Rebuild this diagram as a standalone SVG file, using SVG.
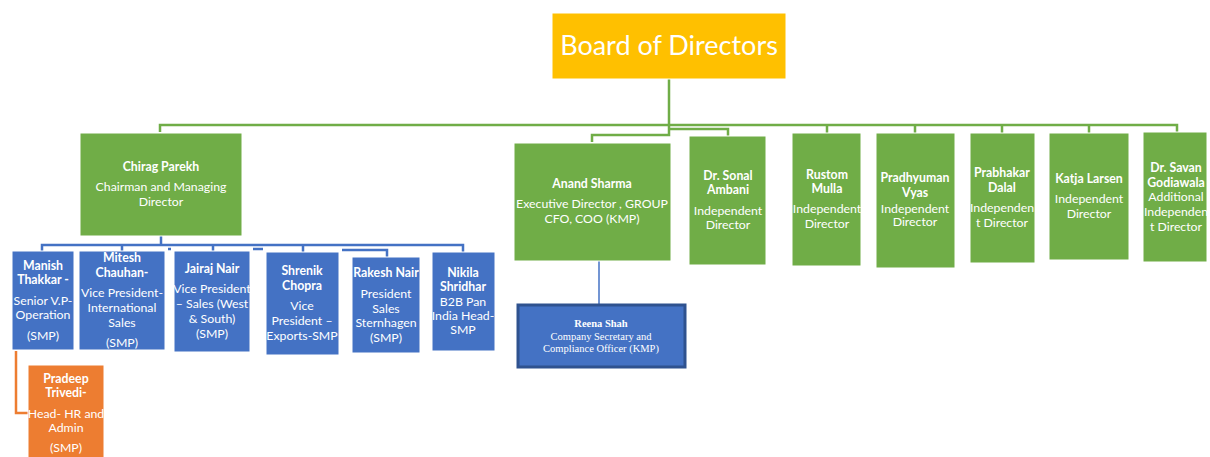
<svg xmlns="http://www.w3.org/2000/svg" width="1210" height="457" viewBox="0 0 1210 457">
<style>
.g{fill:#70AD47;stroke:#ffffff;stroke-width:1}
.b{fill:#4472C4;stroke:#ffffff;stroke-width:1}
.o{fill:#ED7D31;stroke:#ffffff;stroke-width:1}
.t{font-family:Lato,"Open Sans","Liberation Sans",sans-serif;font-size:12.3px;fill:#ffffff;text-anchor:middle}
.bd{font-weight:bold}
.gl{fill:none;stroke:#70AD47;stroke-width:2.5}
.bl{fill:none;stroke:#4472C4;stroke-width:2.5}
.rs{font-family:"Liberation Serif",serif;font-size:10.5px;fill:#ffffff;text-anchor:middle}
</style>
<rect width="1210" height="457" fill="#ffffff"/>
<g id="connectors">
<path class="gl" d="M669,79 V125 M160,132 V125 H1177 V132 M827,125 V133 M915,125 V133 M1002,125 V133 M1089,125 V133 M669,125 V135 H592 V142 M669,129 H728 V136"/>
<path class="bl" d="M161,236 V245 M42,251 V245 H463 V252 M122,245 V251 M213,245 V251 M303,245 V252 M342,250 H387 V257 M168,249 h3 M253,249 h10"/>
<path fill="none" stroke="#4472C4" stroke-width="1.5" d="M599,261 V304"/>
<path fill="none" stroke="#ED7D31" stroke-width="2.5" d="M16,351 V413 H28"/>
</g>
<g id="board">
<rect x="552" y="13" width="234" height="66" fill="#FFC000" stroke="#ffffff"/>
<text x="669" y="55" font-family="Lato,'Open Sans',sans-serif" font-size="27" fill="#ffffff" text-anchor="middle">Board of Directors</text>
</g>
<g id="chirag">
<rect class="g" x="80" y="133" width="162" height="103"/>
<text class="t bd" x="161" y="171">Chirag Parekh</text>
<text class="t" x="161" y="191">Chairman and Managing</text>
<text class="t" x="161" y="206">Director</text>
</g>
<g id="anand">
<rect class="g" x="514" y="143" width="157" height="118"/>
<text class="t bd" x="592" y="188">Anand Sharma</text>
<text class="t" x="592" y="208">Executive Director , GROUP</text>
<text class="t" x="592" y="223">CFO, COO (KMP)</text>
</g>
<g id="sonal">
<rect class="g" x="689" y="136" width="77" height="129"/>
<text class="t bd" x="728" y="180">Dr. Sonal</text>
<text class="t bd" x="728" y="194">Ambani</text>
<text class="t" x="728" y="215">Independent</text>
<text class="t" x="728" y="229">Director</text>
</g>
<g id="rustom">
<rect class="g" x="792" y="133" width="69" height="133"/>
<text class="t bd" x="827" y="179">Rustom</text>
<text class="t bd" x="827" y="193">Mulla</text>
<text class="t" x="827" y="213">Independent</text>
<text class="t" x="827" y="228">Director</text>
</g>
<g id="pradhyuman">
<rect class="g" x="876" y="133" width="79" height="135"/>
<text class="t bd" x="915" y="182">Pradhyuman</text>
<text class="t bd" x="915" y="197">Vyas</text>
<text class="t" x="915" y="213">Independent</text>
<text class="t" x="915" y="226">Director</text>
</g>
<g id="prabhakar">
<rect class="g" x="970" y="133" width="65" height="130"/>
<text class="t bd" x="1002" y="177">Prabhakar</text>
<text class="t bd" x="1002" y="192">Dalal</text>
<text class="t" x="1002" y="212">Independen</text>
<text class="t" x="1002" y="227">t Director</text>
</g>
<g id="katja">
<rect class="g" x="1049" y="133" width="80" height="127"/>
<text class="t bd" x="1089" y="183">Katja Larsen</text>
<text class="t" x="1089" y="203">Independent</text>
<text class="t" x="1089" y="218">Director</text>
</g>
<g id="savan">
<rect class="g" x="1143" y="132" width="64" height="130"/>
<text class="t bd" x="1176" y="172">Dr. Savan</text>
<text class="t bd" x="1176" y="187">Godiawala</text>
<text class="t" x="1176" y="201">Additional</text>
<text class="t" x="1176" y="216">Independen</text>
<text class="t" x="1176" y="231">t Director</text>
</g>
<g id="reena">
<rect x="518" y="305" width="167" height="62" fill="#4472C4" stroke="#2F528F" stroke-width="3"/>
<text class="rs" x="601" y="327" font-weight="bold">Reena Shah</text>
<text class="rs" x="601" y="340">Company Secretary and</text>
<text class="rs" x="601" y="352">Compliance Officer (KMP)</text>
</g>
<g id="manish">
<rect class="b" x="12" y="251" width="62" height="99"/>
<text class="t bd" x="43" y="270">Manish</text>
<text class="t bd" x="43" y="284">Thakkar -</text>
<text class="t" x="43" y="305">Senior V.P-</text>
<text class="t" x="43" y="319">Operation</text>
<text class="t" x="43" y="340">(SMP)</text>
</g>
<g id="mitesh">
<rect class="b" x="79" y="251" width="86" height="99"/>
<text class="t bd" x="122" y="262">Mitesh</text>
<text class="t bd" x="122" y="277">Chauhan-</text>
<text class="t" x="122" y="297">Vice President-</text>
<text class="t" x="122" y="312">International</text>
<text class="t" x="122" y="327">Sales</text>
<text class="t" x="122" y="347">(SMP)</text>
</g>
<g id="jairaj">
<rect class="b" x="174" y="251" width="76" height="101"/>
<text class="t bd" x="212" y="273">Jairaj Nair</text>
<text class="t" x="212" y="293">Vice President</text>
<text class="t" x="212" y="308">– Sales (West</text>
<text class="t" x="212" y="323">&amp; South)</text>
<text class="t" x="212" y="338">(SMP)</text>
</g>
<g id="shrenik">
<rect class="b" x="266" y="252" width="73" height="103"/>
<text class="t bd" x="302" y="275">Shrenik</text>
<text class="t bd" x="302" y="290">Chopra</text>
<text class="t" x="302" y="310">Vice</text>
<text class="t" x="302" y="325">President –</text>
<text class="t" x="302" y="340">Exports-SMP</text>
</g>
<g id="rakesh">
<rect class="b" x="352" y="257" width="68" height="96"/>
<text class="t bd" x="386" y="277">Rakesh Nair</text>
<text class="t" x="386" y="298">President</text>
<text class="t" x="386" y="313">Sales</text>
<text class="t" x="386" y="327">Sternhagen</text>
<text class="t" x="386" y="342">(SMP)</text>
</g>
<g id="nikila">
<rect class="b" x="432" y="252" width="63" height="99"/>
<text class="t bd" x="463" y="277">Nikila</text>
<text class="t bd" x="463" y="291">Shridhar</text>
<text class="t" x="463" y="306">B2B Pan</text>
<text class="t" x="463" y="320">India Head-</text>
<text class="t" x="463" y="334">SMP</text>
</g>
<g id="pradeep">
<rect class="o" x="28" y="365" width="76" height="93"/>
<text class="t bd" x="66" y="383">Pradeep</text>
<text class="t bd" x="66" y="397">Trivedi-</text>
<text class="t" x="66" y="418">Head- HR and</text>
<text class="t" x="66" y="432">Admin</text>
<text class="t" x="66" y="452">(SMP)</text>
</g>
</svg>
